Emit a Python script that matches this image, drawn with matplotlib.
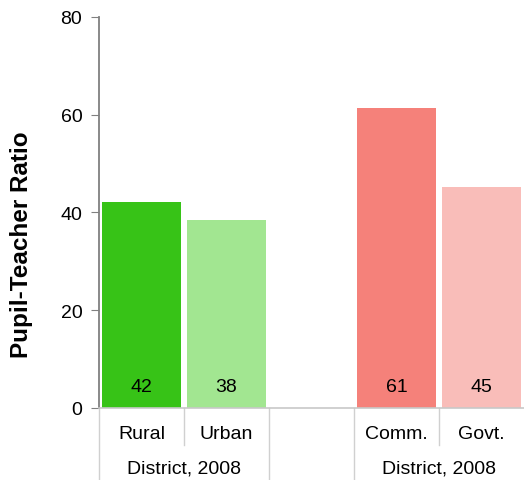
import numpy as np
from matplotlib import pyplot as plt

plt.rcParams['font.family'] = ['Liberation Sans', 'DejaVu Sans']

# chart data
categories = ["Rural", "Urban", "", "Comm.", "Govt."]
values = [42.2, 38.4, None, 61.4, 45.2]
group_labels = ["District, 2008", "District, 2008"]
group_centers = [0.5, 3.5]
bar_colors = ["#37c317", "#a2e691", "none", "#f5817a", "#f9bdb9"]

fig = plt.figure(figsize=(5.24, 4.81), dpi=100)
ax = fig.add_axes([0.189, 0.1497, 0.811, 0.8129])

x = np.arange(len(categories))
for xi, v, c in zip(x, values, bar_colors):
    if v is None:
        continue
    ax.bar(xi, v, width=0.92, color=c, edgecolor="none")
    ax.text(xi, 4.4, "{:.0f}".format(v), ha="center", va="center", fontsize=14)

ax.set_xlim(-0.5, 4.5)
ax.set_ylim(0, 80)
ax.set_yticks([0, 20, 40, 60, 80])
ax.set_xticks([])
ax.tick_params(axis="y", labelsize=14, length=6, color="#808080", direction="out", pad=6)
ax.spines["top"].set_visible(False)
ax.spines["right"].set_visible(False)
ax.spines["left"].set_color("#808080")
ax.spines["left"].set_linewidth(1.3)
ax.spines["bottom"].set_color("#c8c8c8")
ax.spines["bottom"].set_linewidth(1.2)
ax.set_ylabel("Pupil-Teacher Ratio", fontsize=17.5, fontweight="bold")
ax.yaxis.set_label_coords(-0.156, 0.42)

# category separators below the axis
trans = ax.get_xaxis_transform()
for sx in [-0.5, 1.5, 2.5]:
    ax.plot([sx, sx], [0, -0.19], color="#d0d0d0", lw=1, transform=trans, clip_on=False)
for sx in [0.5, 3.5]:
    ax.plot([sx, sx], [0, -0.095], color="#d0d0d0", lw=1, transform=trans, clip_on=False)

for xi, cat in zip(x, categories):
    ax.text(xi, -0.064, cat, ha="center", va="center", fontsize=14, transform=trans)
for gx, g in zip(group_centers, group_labels):
    ax.text(gx, -0.153, g, ha="center", va="center", fontsize=14, transform=trans)

fig.savefig("out.png", dpi=100)
